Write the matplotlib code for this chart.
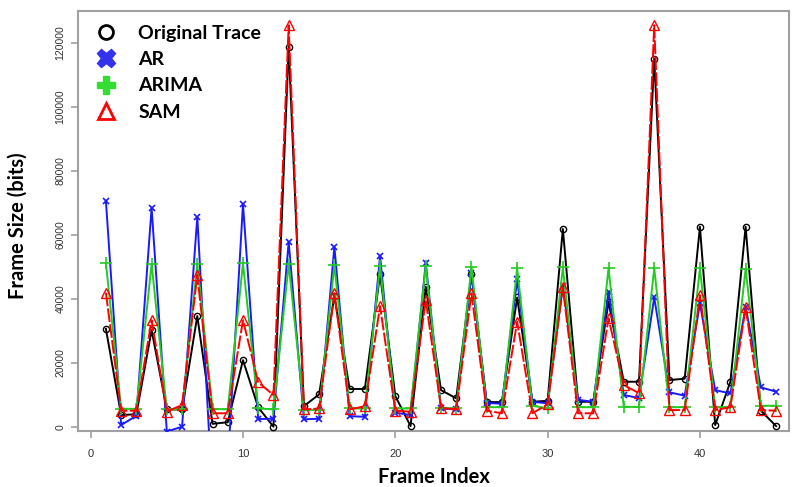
import matplotlib
matplotlib.use("Agg")
import matplotlib.pyplot as plt
from matplotlib.lines import Line2D

frame_index = list(range(1, 46))

original = [30600, 3650, 3900, 30200, 5400, 5400, 34600, 900, 1400, 20800,
            6050, 0, 118750, 6450, 10100, 40950, 11800, 11800, 47700, 9600,
            200, 43750, 11450, 8870, 47700, 7700, 7700, 40400, 7800, 8100,
            61800, 7800, 7800, 39050, 14060, 14060, 115100, 14600, 15000, 62500,
            520, 14060, 62500, 5000, 200]

ar = [70600, 530, 3400, 68400, -1500, 0, 65600, -22000, -12000, 69600,
      2400, 2500, 57800, 2300, 2500, 56250, 3300, 3100, 53300, 4400,
      3650, 51250, 5700, 5400, 47900, 7400, 7200, 46050, 7800, 7300,
      44000, 8400, 7800, 42200, 9900, 8960, 40400, 10750, 9700, 38550,
      11450, 10400, 37500, 12300, 10950]

arima = [51150, 5600, 5600, 50900, 5400, 5400, 50800, 5600, 5400, 51050,
         5700, 5400, 50800, 5200, 5200, 50500, 5700, 5700, 50200, 5700,
         5700, 50200, 5900, 5700, 50000, 6100, 6100, 49500, 6500, 5800,
         49800, 6100, 6100, 49500, 6200, 6200, 49500, 6100, 6100, 49500,
         6100, 6100, 49400, 6560, 6560]

sam = [41900, 5000, 5000, 33300, 4700, 6800, 47400, 4200, 4200, 33300,
       13900, 9900, 125500, 5400, 5700, 41700, 5400, 6400, 37700, 5000,
       4700, 39600, 5900, 5400, 41700, 5000, 4200, 32800, 4200, 7000,
       43550, 4200, 4200, 33900, 13000, 10500, 125500, 5200, 5200, 41150,
       5200, 6100, 37300, 5200, 5000]

series_names = ["Original Trace", "AR", "ARIMA", "SAM"]
x_ticks = [0, 10, 20, 30, 40]
y_ticks = [0, 20000, 40000, 60000, 80000, 100000, 120000]

fig = plt.figure(figsize=(7.93, 4.87), dpi=100)
ax = fig.add_axes([0.0984, 0.115, 0.8966, 0.862])

ax.plot(frame_index, original, color="black", lw=1.4, marker="o", ms=4.5,
        mfc="none", mec="black", mew=1.0, zorder=3)
ax.plot(frame_index, ar, color="#1a1aff", lw=1.4, marker="x", ms=5,
        mew=1.2, zorder=4)
ax.plot(frame_index, arima, color="#22cc22", lw=1.4, marker="+", ms=8,
        mew=1.2, zorder=5)
ax.plot(frame_index, sam, color="red", lw=1.4, marker="^", ms=6.5,
        mfc="none", mec="red", mew=1.0, dashes=(7, 1.2), zorder=6)

ax.set_xlim(-0.83, 45.85)
ax.set_ylim(-1340, 129900)
ax.set_xticks(x_ticks)
ax.set_yticks(y_ticks)
ax.set_yticklabels([str(v) for v in y_ticks], rotation=90, va="center",
                   family="Liberation Sans", fontsize=7.5)
ax.set_xticklabels([str(v) for v in x_ticks], family="Liberation Sans",
                   fontsize=8)
for s in ax.spines.values():
    s.set_color("#a0a0a0")
    s.set_linewidth(1.5)
ax.tick_params(axis="both", direction="out", length=5, color="#a0a0a0",
               width=1.2, colors="#333333")
ax.tick_params(axis="x", pad=8)
ax.tick_params(axis="y", pad=4)

ax.set_xlabel("Frame Index", fontsize=14.5, fontweight="bold", family="Lato",
              labelpad=6)
ax.set_ylabel("Frame Size (bits)", fontsize=14.5, fontweight="bold",
              family="Lato")
ax.yaxis.set_label_coords(-0.071, 0.49)

handles = [
    Line2D([], [], ls="none", marker="o", ms=10, mfc="none", mec="black", mew=2),
    Line2D([], [], ls="none", marker="X", ms=13, color="#3333ee", mec="#3333ee"),
    Line2D([], [], ls="none", marker="P", ms=13, color="#33dd33", mec="#33dd33"),
    Line2D([], [], ls="none", marker="^", ms=11, mfc="none", mec="red", mew=2),
]
leg = ax.legend(handles, series_names, loc="upper left", frameon=False,
                bbox_to_anchor=(0.0, 1.0), borderaxespad=0.3,
                prop={"family": "Lato", "weight": "bold", "size": 14},
                handletextpad=0.9, labelspacing=0.48, handlelength=1.5)

fig.savefig("out.png", dpi=100)
